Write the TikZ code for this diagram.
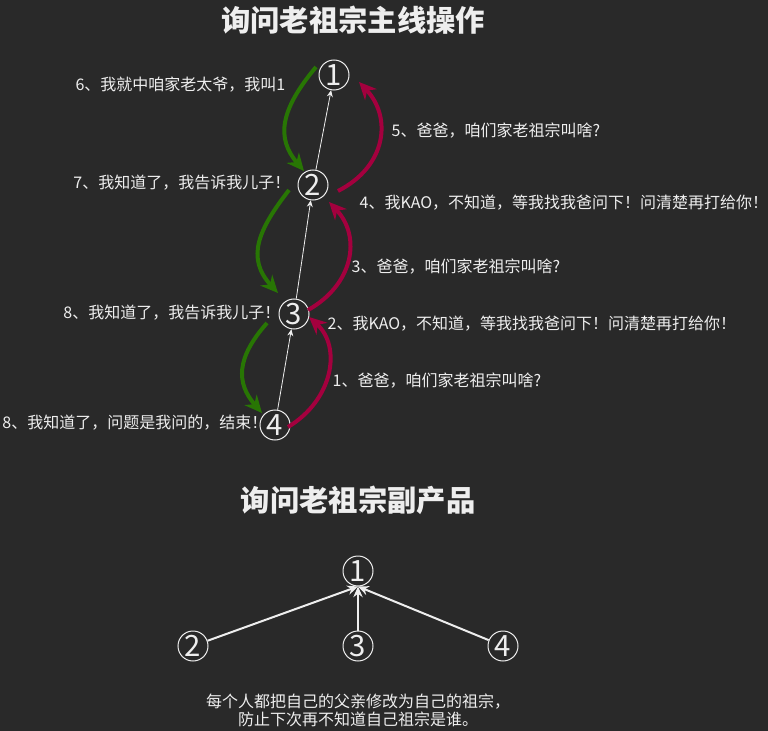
\documentclass[tikz,border=0pt]{standalone}
\usepackage{fontspec}
\setmainfont{Noto Sans CJK SC}
\usetikzlibrary{arrows.meta, calc}

\definecolor{bgdark}{RGB}{41,41,41}
\definecolor{txtwhite}{RGB}{238,238,238}
\definecolor{askred}{RGB}{164,0,62}
\definecolor{replygreen}{RGB}{40,118,4}

\begin{document}
\begin{tikzpicture}[
    x=0.75pt, y=-0.75pt,
    font=\fontsize{12}{14}\selectfont, text=txtwhite,
    title/.style={font=\fontsize{22}{26}\selectfont\bfseries},
    person/.style={circle, draw=txtwhite, line width=0.75pt, minimum size=22.5pt, inner sep=0pt, font=\fontsize{22}{22}\selectfont},
    link/.style={-{Stealth[length=5pt, width=4.5pt]}, draw=txtwhite, line width=0.6pt},
    ask/.style={-{Stealth[length=13pt, width=12pt]}, draw=askred, line width=3pt},
    reply/.style={-{Stealth[length=13pt, width=12pt]}, draw=replygreen, line width=3pt},
    ancestor/.style={-{Stealth[length=8pt, width=7pt]}, draw=txtwhite, line width=1.5pt}
]

% background and page size
\fill[bgdark] (0,0) rectangle (768,731);
\useasboundingbox (0,0) rectangle (768,731);

% main line
\node[title] (t1) at (353,20) {询问老祖宗主线操作};

\node[person] (a1) at (334,75) {1};
\node[person] (a2) at (313,185) {2};
\node[person] (a3) at (294,314) {3};
\node[person] (a4) at (275,425) {4};

\draw[link] (a4) -- (a3);
\draw[link] (a3) -- (a2);
\draw[link] (a2) -- (a1);

% asking upwards
\draw[ask] ($(a4)+(13,2)$) .. controls +(45,-27) and +(33,30) .. ($(a3)+(15,3)$);
\draw[ask] ($(a3)+(14,-4)$) .. controls +(45,-25) and +(33,35) .. ($(a2)+(16,17)$);
\draw[ask] ($(a2)+(25,6)$) .. controls +(49,-25) and +(33,35) .. ($(a1)+(25,7)$);

% answers downwards
\draw[reply] ($(a1)+(-18,-8)$) .. controls +(-36,43) and +(-28,-33) .. ($(a2)+(-9,-14)$);
\draw[reply] ($(a2)+(-24,5)$) .. controls +(-31,40) and +(-32,-35) .. ($(a3)+(-16,-21)$);
\draw[reply] ($(a3)+(-27,9)$) .. controls +(-31,35) and +(-26,-30) .. ($(a4)+(-13,-12)$);

\node[anchor=west] (s1) at (328,381) {1、爸爸，咱们家老祖宗叫啥?};
\node[anchor=west] (s2) at (323,324) {2、我KAO，不知道，等我找我爸问下！问清楚再打给你！};
\node[anchor=west] (s3) at (347,267) {3、爸爸，咱们家老祖宗叫啥?};
\node[anchor=west] (s4) at (355,203) {4、我KAO，不知道，等我找我爸问下！问清楚再打给你！};
\node[anchor=west] (s5) at (387,131) {5、爸爸，咱们家老祖宗叫啥?};
\node[anchor=east] (s6) at (290,85) {6、我就中咱家老太爷，我叫1};
\node[anchor=east] (s7) at (295,183) {7、我知道了，我告诉我儿子！};
\node[anchor=east] (s8) at (285,313) {8、我知道了，我告诉我儿子！};
\node[anchor=east] (s9) at (272,423) {8、我知道了，问题是我问的，结束！};

% by-product
\node[title] (t2) at (358,500) {询问老祖宗副产品};

\node[person] (b1) at (358,571) {1};
\node[person] (b2) at (193,646) {2};
\node[person] (b3) at (358,646) {3};
\node[person] (b4) at (503,646) {4};

\draw[ancestor] (b2) -- (b1.south);
\draw[ancestor] (b3) -- (b1.south);
\draw[ancestor] (b4) -- (b1.south);

\node[align=center, font=\fontsize{12}{13.5}\selectfont] (note) at (358,710) {每个人都把自己的父亲修改为自己的祖宗，\\防止下次再不知道自己祖宗是谁。};

\end{tikzpicture}
\end{document}
